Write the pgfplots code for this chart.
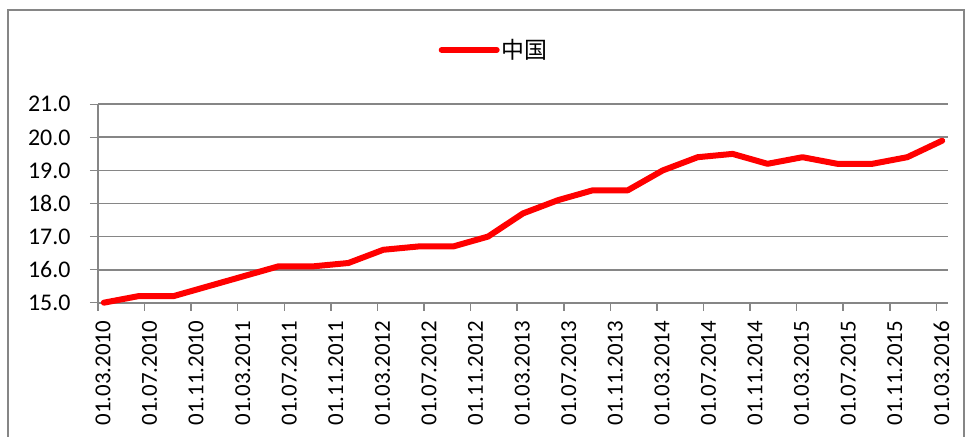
\documentclass[border=0pt]{standalone}
\usepackage{pgfplots}
\pgfplotsset{compat=1.18}
\usepackage{fontspec}
\setmainfont{Carlito}
\newfontfamily\cjk{Noto Sans CJK SC}
\definecolor{gridgray}{HTML}{868686}
\definecolor{linered}{HTML}{FF0000}
\begin{document}
\begin{tikzpicture}[x=1bp,y=1bp]
\useasboundingbox (0,0) rectangle (965,437);
\draw[gridgray, line width=2bp] (8,-5) -- (8,427) -- (964,427) -- (964,-5);
\begin{axis}[
  at={(98bp,134.3bp)}, anchor=south west,
  scale only axis, width=850bp, height=198.4bp,
  xmin=0, xmax=73, ymin=15, ymax=21,
  ytick={15,16,...,21},
  xtick={0,4,...,72},
  xticklabels={01.03.2010,01.07.2010,01.11.2010,01.03.2011,01.07.2011,01.11.2011,01.03.2012,01.07.2012,01.11.2012,01.03.2013,01.07.2013,01.11.2013,01.03.2014,01.07.2014,01.11.2014,01.03.2015,01.07.2015,01.11.2015,01.03.2016},
  xticklabel style={rotate=90, anchor=east, font=\fontsize{23}{26}\selectfont, inner sep=1bp, xshift=-9bp, yshift=-5bp},
  yticklabel style={font=\fontsize{24}{26}\selectfont, /pgf/number format/fixed, /pgf/number format/fixed zerofill, /pgf/number format/precision=1, xshift=-16bp},
  /pgf/number format/assume math mode=true,
  axis lines*=left,
  axis line style={gridgray, line width=2bp, -},
  tick align=outside, major tick length=8bp,
  tick style={gridgray, line width=1.5bp},
  ymajorgrids, grid style={gridgray, line width=1.8bp},
  legend style={at={(0.466,1.274)}, anchor=center, draw=none, fill=none, font=\cjk\fontsize{23}{26}\selectfont, inner sep=0pt},
  legend image code/.code={\draw[#1, line width=6bp, line cap=round] (0bp,0bp) -- (55bp,0bp);},
  clip=false,
]
\addplot[linered, line width=6bp, line join=round, line cap=round] coordinates {
(0.5,15.0) (3.5,15.2) (6.5,15.2) (9.5,15.5) (12.5,15.8) (15.5,16.1) (18.5,16.1) (21.5,16.2) (24.5,16.6) (27.5,16.7) (30.5,16.7) (33.5,17.0) (36.5,17.7) (39.5,18.1) (42.5,18.4) (45.5,18.4) (48.5,19.0) (51.5,19.4) (54.5,19.5) (57.5,19.2) (60.5,19.4) (63.5,19.2) (66.5,19.2) (69.5,19.4) (72.5,19.9)
};
\addlegendentry{中国}
\end{axis}
\end{tikzpicture}
\end{document}
